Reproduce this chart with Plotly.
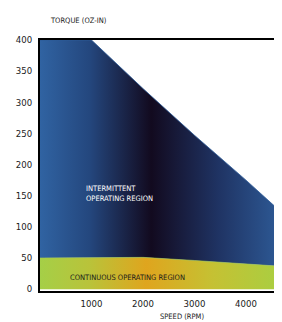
import plotly.graph_objects as go

# Data
speed_cont = [0, 1000, 2000, 3000, 4000, 4800]
torque_cont = [50, 50.5, 51, 46, 41, 36]

speed_int = [0, 1000, 2000, 3000, 4000, 4800]
torque_int = [400, 400, 322, 247, 175, 115]

x_ticks = [1000, 2000, 3000, 4000]
y_ticks = [0, 50, 100, 150, 200, 250, 300, 350, 400]

FONT = "Liberation Sans Narrow, DejaVu Sans Condensed, sans-serif"

fig = go.Figure()

fig.add_trace(go.Scatter(
    x=speed_cont, y=torque_cont, mode="lines",
    line=dict(width=0.6, color="#a8cc45"),
    fill="tozeroy",
    fillgradient=dict(type="horizontal", colorscale=[
        [0, "#a5cf47"], [0.2, "#b9c33a"], [0.43, "#dfa51e"],
        [0.7, "#c5c133"], [1, "#a6d043"]]),
    hoverinfo="skip", showlegend=False))

fig.add_trace(go.Scatter(
    x=speed_int, y=torque_int, mode="lines",
    line=dict(width=0.8, color="#2f5d99"),
    fill="tonexty",
    fillgradient=dict(type="horizontal", colorscale=[
        [0, "#3063a2"], [0.2, "#24477e"], [0.45, "#120a1f"],
        [0.72, "#1f3363"], [1, "#2f5e9b"]]),
    hoverinfo="skip", showlegend=False))

fig.add_annotation(x=855, y=154, xref="x", yref="y", xanchor="left", align="left",
                   text="INTERMITTENT<br>OPERATING REGION", showarrow=False,
                   font=dict(family=FONT, size=7.5, color="#ffffff"))
fig.add_annotation(x=1690, y=18, xref="x", yref="y",
                   text="CONTINUOUS OPERATING REGION", showarrow=False,
                   font=dict(family=FONT, size=7.5, color="#1a1a1a"))
fig.add_annotation(x=8 / 242, y=1 + 20 / 251, xref="paper", yref="paper",
                   xanchor="left", yanchor="middle",
                   text="TORQUE (OZ-IN)", showarrow=False,
                   font=dict(family=FONT, size=7.5, color="#1a1a1a"))
fig.add_annotation(x=2763, y=-25 / 251, xref="x", yref="paper",
                   xanchor="center", yanchor="middle",
                   text="SPEED (RPM)", showarrow=False,
                   font=dict(family=FONT, size=7.5, color="#1a1a1a"))

# the page body adds an 8px offset, so the figure is sized/margined to compensate
fig.update_layout(
    width=274, height=314,
    margin=dict(l=32, r=0, t=32, b=31),
    paper_bgcolor="#ffffff", plot_bgcolor="#ffffff",
    font=dict(family=FONT, size=9.5, color="#1a1a1a"),
    xaxis=dict(range=[0, 4700], tickvals=x_ticks, showgrid=False, zeroline=False,
               showline=True, linecolor="#000000", linewidth=2, mirror=True,
               ticks="", ticklabelstandoff=3, fixedrange=True),
    yaxis=dict(range=[-3, 400], tickvals=y_ticks, showgrid=False, zeroline=False,
               showline=True, linecolor="#000000", linewidth=2, mirror=False,
               ticks="", ticklabelstandoff=4, fixedrange=True),
)

fig.write_html("out.html")
